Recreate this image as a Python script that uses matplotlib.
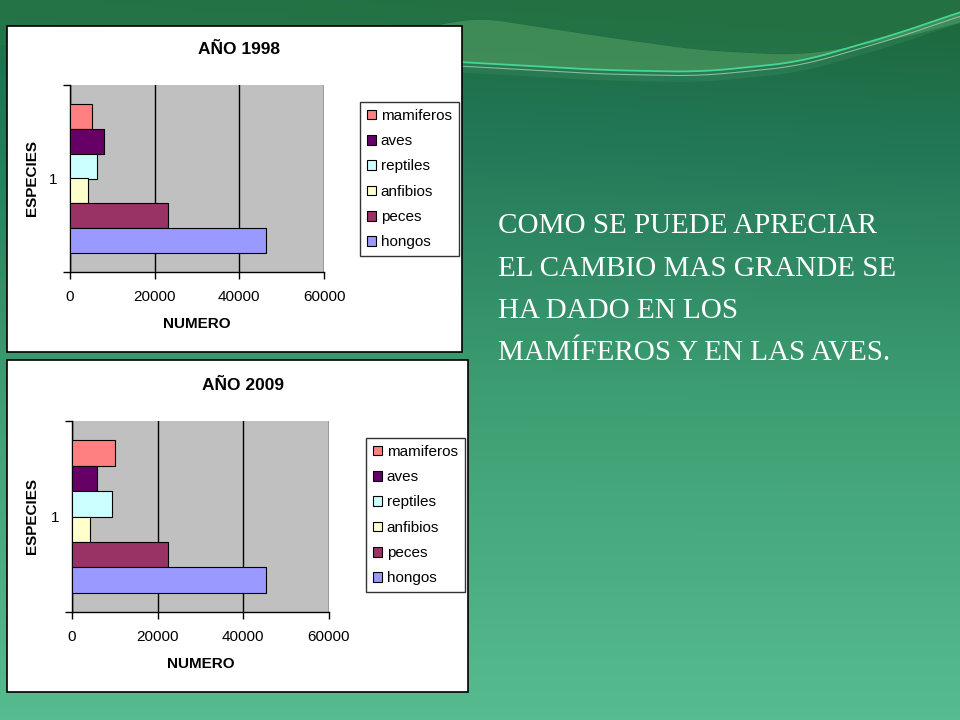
import numpy as np
import matplotlib
matplotlib.use("Agg")
from matplotlib import pyplot as plt
from matplotlib.patches import Rectangle, Patch
from matplotlib.colors import LinearSegmentedColormap

# data .............................................................
especies = ["mamiferos", "aves", "reptiles", "anfibios", "peces", "hongos"]
colores = ["#FF8080", "#660066", "#CCFFFF", "#FFFFCC", "#993366", "#9999FF"]
valores_1998 = [5200, 8100, 6400, 4300, 23200, 46400]
valores_2009 = [10000, 5900, 9400, 4200, 22300, 45200]
titulos = ["AÑO 1998", "AÑO 2009"]
xticks = [0, 20000, 40000, 60000]
mensaje = ["COMO SE PUEDE APRECIAR",
           "EL CAMBIO MAS GRANDE SE",
           "HA DADO EN LOS",
           "MAMÍFEROS Y EN LAS AVES."]

W, H = 960, 720
plt.rcParams['font.family'] = ['Liberation Sans', 'DejaVu Sans']

def box(x0, y0, x1, y1):
    return [x0 / W, 1 - y1 / H, (x1 - x0) / W, (y1 - y0) / H]

def smooth_curve(xs, px, py, k=31):
    y = np.interp(xs, px, py)
    pad = k // 2
    yp = np.concatenate([np.full(pad, y[0]), y, np.full(pad, y[-1])])
    return np.convolve(yp, np.ones(k) / k, mode='valid')

fig = plt.figure(figsize=(9.6, 7.2), dpi=100)

# background .......................................................
bg = fig.add_axes([0, 0, 1, 1])
cm = LinearSegmentedColormap.from_list(
    "slide", [(0, "#1d6a40"), (0.18, "#227756"), (0.55, "#3e9e73"), (1, "#56bc90")])
yy, xx = np.mgrid[0:1:200j, 0:1:200j]
grad = yy + 0.1 * (0.5 - xx) * (1 - yy) ** 3
bg.imshow(cm(np.clip(grad, 0, 1)), extent=[0, W, H, 0], aspect='auto', zorder=0)

# swoosh at the top
xs = np.linspace(-40, W + 40, 500)
line_y = smooth_curve(xs, [-40, 300, 460, 600, 700, 800, 900, 960, 1000],
                      [55, 55, 62, 70, 72, 62, 33, 12, 0])
band_y = smooth_curve(xs, [-40, 300, 430, 470, 600, 700, 800, 900, 960, 1000],
                      [45, 45, 28, 16, 36, 50, 55, 38, 22, 12])
vis = xs > 380
bg.fill_between(xs, -5, band_y, color="#2c7b48", alpha=0.45, lw=0, zorder=1)
bg.fill_between(xs, band_y, line_y, where=vis, color="#55a062", alpha=0.6, lw=0, zorder=1)
bg.fill_between(xs, line_y, line_y + 10, where=vis, color="#3c8c62", alpha=0.35, lw=0, zorder=1)
bg.plot(xs[vis], line_y[vis], color="#45d695", lw=1.3, zorder=2)
bg.plot(xs[vis], line_y[vis] + 4, color="#9fcfae", lw=0.8, alpha=0.8, zorder=2)
bg.set_xlim(0, W)
bg.set_ylim(H, 0)
bg.axis('off')

for i, linea in enumerate(mensaje):
    bg.text(498, 233 + i * 42.5, linea, color="white", fontsize=21,
            family=['Liberation Serif', 'DejaVu Serif'], va='baseline', ha='left', zorder=3)

# charts ...........................................................
paneles = [(7, 26, 462, 352), (7, 360, 468, 692)]
areas = [(70, 85, 324, 272), (72, 421, 329, 612)]
leyendas = [(360, 102), (366, 438)]
datos = [valores_1998, valores_2009]

w = 0.8 / len(especies)
pos = [0.9 - w * (i + 0.5) for i in range(len(especies))]

for k in range(2):
    px0, py0, px1, py1 = paneles[k]
    bg.add_patch(Rectangle((px0, py0), px1 - px0, py1 - py0, facecolor="white",
                           edgecolor="black", lw=1.2, zorder=4))
    ax0, ay0, ax1, ay1 = areas[k]
    ax = fig.add_axes(box(ax0, ay0, ax1, ay1))
    ax.set_facecolor("#C0C0C0")
    ax.barh(pos, datos[k], height=w, color=colores, edgecolor="black", lw=0.8, zorder=3)
    ax.set_xlim(0, 60000)
    ax.set_ylim(0, 1)
    ax.set_xticks(xticks)
    ax.set_xticklabels([str(v) for v in xticks], fontsize=11)
    ax.grid(axis='x', color='black', lw=1, zorder=1)
    ax.set_yticks([0, 1])
    ax.set_yticklabels([])
    ax.set_yticks([0.5], minor=True)
    ax.set_yticklabels(["1"], minor=True, fontsize=11)
    ax.tick_params(axis='y', which='minor', length=0, pad=9)
    ax.tick_params(axis='both', which='major', length=5, width=1, color='black', pad=8)
    for s in ['top', 'right']:
        ax.spines[s].set_visible(False)
    for s in ['left', 'bottom']:
        ax.spines[s].set_linewidth(1)
    ax.set_xlabel("NUMERO", fontsize=11, fontweight='bold', labelpad=9)
    ax.set_ylabel("ESPECIES", fontsize=11, fontweight='bold')
    ax.yaxis.set_label_coords((39 - ax0) / (ax1 - ax0), 0.5)
    cx = (px0 + px1) / 2 + 5
    bg.text(cx, ay0 - 36, titulos[k], fontsize=12.5, fontweight='bold',
            ha='center', va='center', zorder=5)
    handles = [Patch(facecolor=c, edgecolor='black', lw=0.8) for c in colores]
    lx, ly = leyendas[k]
    leg = fig.legend(handles, especies, loc='upper left',
                     bbox_to_anchor=(lx / W, 1 - ly / H), fontsize=11,
                     frameon=True, fancybox=False, edgecolor='black',
                     handlelength=0.6, handleheight=0.6, handletextpad=0.3,
                     labelspacing=0.74, borderpad=0.45, borderaxespad=0)
    leg.get_frame().set_linewidth(1)

fig.savefig("out.png", dpi=100)
